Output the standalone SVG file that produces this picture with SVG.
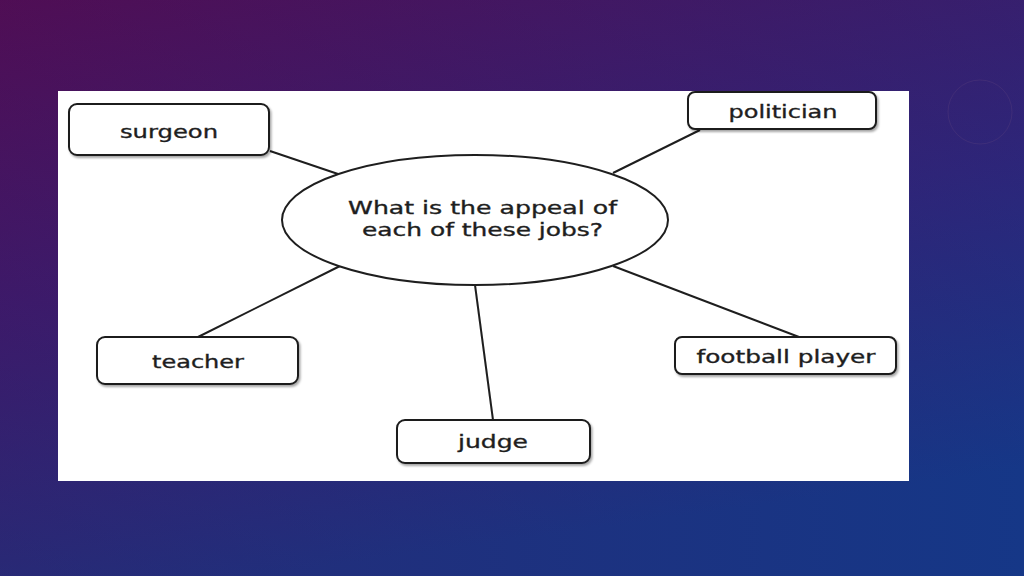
<svg xmlns="http://www.w3.org/2000/svg" width="1024" height="576" viewBox="0 0 1024 576">
  <defs>
    <linearGradient id="bg" x1="0" y1="0" x2="0.25" y2="1">
      <stop offset="0" stop-color="#4c0f56"/>
      <stop offset="0.5" stop-color="#331f72"/>
      <stop offset="1" stop-color="#143684"/>
    </linearGradient>
    <linearGradient id="bgh" x1="0" y1="0" x2="1" y2="0">
      <stop offset="0" stop-color="#5a0a50" stop-opacity="0.25"/>
      <stop offset="1" stop-color="#1a3a90" stop-opacity="0.25"/>
    </linearGradient>
    <filter id="sh" x="-10%" y="-20%" width="120%" height="150%">
      <feDropShadow dx="1.5" dy="2" stdDeviation="1.2" flood-color="#000" flood-opacity="0.35"/>
    </filter>
  </defs>
  <style>
    .box { fill: #ffffff; stroke: #1e1e1e; stroke-width: 2; filter: url(#sh); }
    .lbl { font-family: "DejaVu Sans", Verdana, sans-serif; font-size: 18px; fill: #1e1e1e; stroke: #1e1e1e; stroke-width: 0.35; text-anchor: middle; }
    .conn line { stroke: #1e1e1e; stroke-width: 2; }
  </style>
  <rect x="0" y="0" width="1024" height="576" fill="url(#bg)"/>
  <rect x="0" y="0" width="1024" height="576" fill="url(#bgh)"/>
  <circle cx="980" cy="112" r="32" fill="none" stroke="#6a4a80" stroke-opacity="0.25" stroke-width="1"/>
  <rect x="58" y="91" width="851" height="390" fill="#ffffff"/>

  <g id="connectors" class="conn">
    <line x1="270" y1="151" x2="338" y2="174"/>
    <line x1="700" y1="130" x2="613" y2="173"/>
    <line x1="198" y1="337" x2="340" y2="266"/>
    <line x1="613" y1="266" x2="799" y2="337"/>
    <line x1="475" y1="285" x2="493" y2="420"/>
  </g>

  <g id="center">
    <ellipse cx="475" cy="220" rx="193" ry="65" fill="#ffffff" stroke="#1e1e1e" stroke-width="2"/>
    <text class="lbl" x="482.5" y="214" textLength="269" lengthAdjust="spacingAndGlyphs">What is the appeal of</text>
    <text class="lbl" x="482.5" y="236" textLength="241" lengthAdjust="spacingAndGlyphs">each of these jobs?</text>
  </g>

  <g id="surgeon">
    <rect class="box" x="69" y="104" width="200" height="51" rx="8"/>
    <text class="lbl" x="169" y="138" textLength="98" lengthAdjust="spacingAndGlyphs">surgeon</text>
  </g>

  <g id="politician">
    <rect class="box" x="688" y="92" width="188" height="37" rx="7"/>
    <text class="lbl" x="783" y="118" textLength="109" lengthAdjust="spacingAndGlyphs">politician</text>
  </g>

  <g id="teacher">
    <rect class="box" x="97" y="337" width="201" height="47" rx="8"/>
    <text class="lbl" x="198" y="368" textLength="92" lengthAdjust="spacingAndGlyphs">teacher</text>
  </g>

  <g id="football-player">
    <rect class="box" x="675" y="337" width="221" height="37" rx="7"/>
    <text class="lbl" x="786" y="363" textLength="179" lengthAdjust="spacingAndGlyphs">football player</text>
  </g>

  <g id="judge">
    <rect class="box" x="397" y="420" width="193" height="43" rx="8"/>
    <text class="lbl" x="493" y="448" textLength="70" lengthAdjust="spacingAndGlyphs">judge</text>
  </g>
</svg>
